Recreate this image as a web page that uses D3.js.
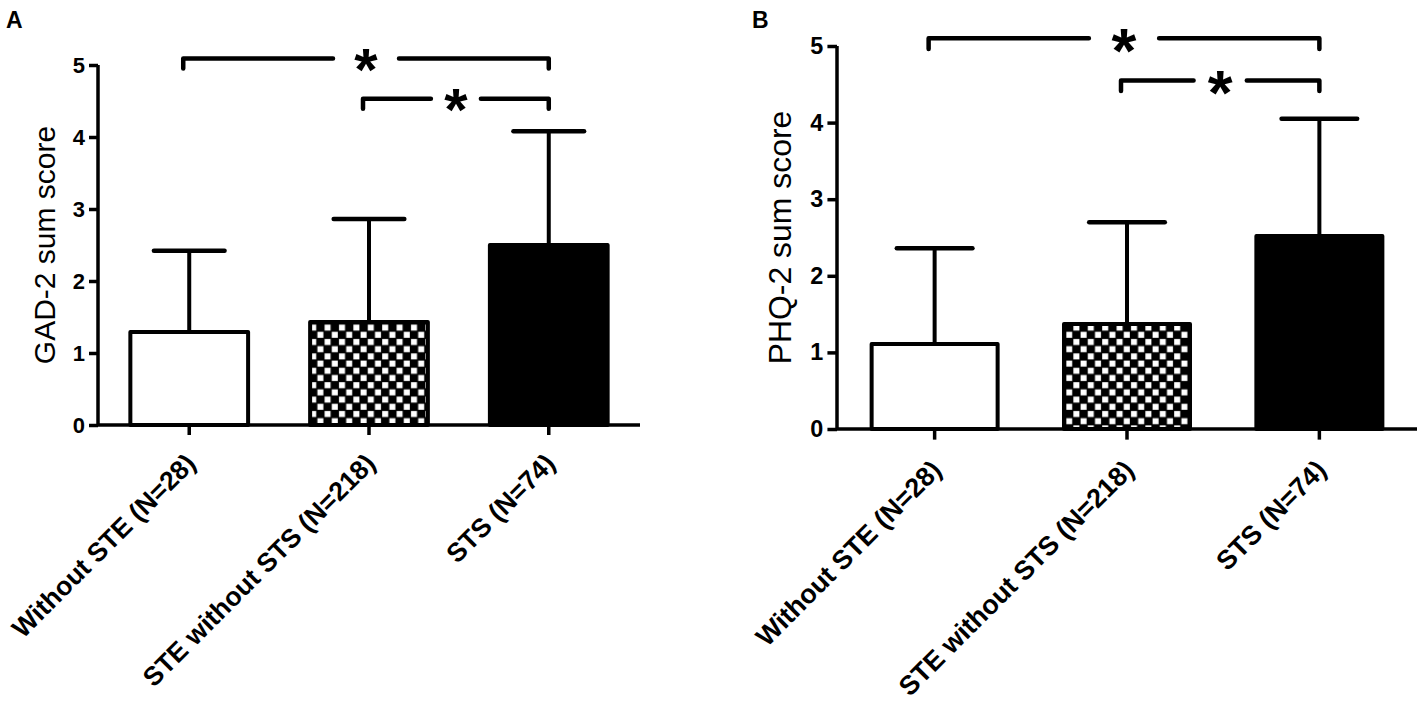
<!DOCTYPE html>
<html>
<head>
<meta charset="utf-8">
<script src="https://cdn.jsdelivr.net/npm/d3@7"></script>
<style>
  body { margin: 0; background: #fff; }
  svg { display: block; font-family: "Liberation Sans", Arial, sans-serif; }
</style>
</head>
<body>
<div id="chart"></div>
<script>
// groups on the x axis
var categories = ["Without STE (N=28)", "STE without STS (N=218)", "STS (N=74)"];
var yTicks = [0, 1, 2, 3, 4, 5];

// panel A : GAD-2
var gadMeans = [1.29, 1.43, 2.50];
var gadSD = [1.13, 1.43, 1.58];
var gadSigY = [5.09, 4.53];

// panel B : PHQ-2
var phqMeans = [1.11, 1.37, 2.52];
var phqSD = [1.25, 1.33, 1.53];
var phqSigY = [5.10, 4.55];

// significance brackets (index of groups compared) and their label
var sigPairs = [[0, 2], [1, 2]];
var sigLabels = ["*", "*"];

var width = 1417, height = 712;

var svg = d3.select("#chart")
  .append("svg")
  .attr("width", width)
  .attr("height", height);

// checker fill for the middle bar
var defs = svg.append("defs");
var cell = 7.2;
var pat = defs.append("pattern")
  .attr("id", "checker")
  .attr("patternUnits", "userSpaceOnUse")
  .attr("width", cell * 2)
  .attr("height", cell * 2);
pat.append("rect").attr("width", cell * 2).attr("height", cell * 2).attr("fill", "black");
pat.append("rect").attr("x", 0.6).attr("y", 0.6).attr("width", cell - 1.2).attr("height", cell - 1.2).attr("fill", "white");
pat.append("rect").attr("x", cell + 0.6).attr("y", cell + 0.6).attr("width", cell - 1.2).attr("height", cell - 1.2).attr("fill", "white");

var fills = ["white", "url(#checker)", "black"];

function drawPanel(p) {
  var k = p.scale;
  var g = svg.append("g");

  var x = d3.scaleBand()
    .domain(categories)
    .range([p.left, p.right])
    .paddingInner(0.345)
    .paddingOuter(0.18);

  var y = d3.scaleLinear()
    .domain([0, 5])
    .range([p.bottom, p.top]);

  // y axis
  var yAxis = g.append("g")
    .attr("transform", "translate(" + p.left + ",0)")
    .call(d3.axisLeft(y).tickValues(yTicks).tickFormat(d3.format("d")).tickSize(9 * k).tickPadding(4 * k));
  yAxis.selectAll("line, path").attr("stroke", "black").attr("stroke-width", 3.5);
  yAxis.select(".domain").attr("d", "M0," + p.bottom + "V" + p.top);
  yAxis.selectAll("text")
    .attr("fill", "black")
    .style("font-size", (22 * k) + "px")
    .style("font-weight", "bold")
    .style("font-family", "'Liberation Sans', Arial, sans-serif");

  // bars
  g.selectAll(".bar")
    .data(p.means)
    .enter().append("rect")
    .attr("class", "bar")
    .attr("x", function(d, i) { return x(categories[i]); })
    .attr("y", function(d) { return y(d); })
    .attr("width", x.bandwidth())
    .attr("height", function(d) { return p.bottom - y(d); })
    .attr("fill", function(d, i) { return fills[i]; })
    .attr("stroke", "black")
    .attr("stroke-width", 4)
    .attr("stroke-linejoin", "round");

  // error bars (upper only)
  var cx = function(i) { return x(categories[i]) + x.bandwidth() / 2; };
  var capW = x.bandwidth() * 0.6;
  p.means.forEach(function(m, i) {
    g.append("line")
      .attr("x1", cx(i)).attr("x2", cx(i))
      .attr("y1", y(m)).attr("y2", y(m + p.sd[i]))
      .attr("stroke", "black").attr("stroke-width", 4);
    g.append("line")
      .attr("x1", cx(i) - capW / 2).attr("x2", cx(i) + capW / 2)
      .attr("y1", y(m + p.sd[i])).attr("y2", y(m + p.sd[i]))
      .attr("stroke", "black").attr("stroke-width", 4.5).attr("stroke-linecap", "round");
  });

  // x axis
  var xAxis = g.append("g")
    .attr("transform", "translate(0," + p.bottom + ")")
    .call(d3.axisBottom(x).tickSize(10 * k).tickFormat(""));
  xAxis.selectAll("line, path").attr("stroke", "black").attr("stroke-width", 3.5);
  xAxis.select(".domain").attr("d", "M" + p.left + ",0H" + p.right);

  g.selectAll(".xlabel")
    .data(categories)
    .enter().append("text")
    .attr("class", "xlabel")
    .attr("transform", function(d) {
      return "translate(" + (x(d) + x.bandwidth() / 2 + 8 * k) + "," + (p.bottom + 40 * k) + ") rotate(-45)";
    })
    .attr("text-anchor", "end")
    .style("font-size", p.labelSize + "px")
    .style("font-weight", "bold")
    .text(function(d) { return d; });

  // y axis title
  g.append("text")
    .attr("transform", "translate(" + (p.left - 43 * k) + "," + ((p.top + p.bottom) / 2) + ") rotate(-90)")
    .attr("text-anchor", "middle")
    .style("font-size", (30 * k) + "px")
    .text(p.title);

  // panel letter
  g.append("text")
    .attr("x", p.letterX)
    .attr("y", 28)
    .style("font-size", "23px")
    .style("font-weight", "bold")
    .text(p.letter);

  // significance brackets
  sigPairs.forEach(function(pair, j) {
    var x1 = cx(pair[0]) - 6, x2 = cx(pair[1]);
    var yy = y(p.sigY[j]), yd = yy + 10 * k;
    var mid = (x1 + x2) / 2;
    var gap = (j === 0 ? 33 : 25) * k;
    g.append("path")
      .attr("d", "M" + x1 + "," + yd + "V" + yy + "H" + (mid - gap))
      .attr("fill", "none").attr("stroke", "black").attr("stroke-width", 4.5)
      .attr("stroke-linecap", "round").attr("stroke-linejoin", "round");
    g.append("path")
      .attr("d", "M" + (mid + gap) + "," + yy + "H" + x2 + "V" + yd)
      .attr("fill", "none").attr("stroke", "black").attr("stroke-width", 4.5)
      .attr("stroke-linecap", "round").attr("stroke-linejoin", "round");
    var fs = 60 * k;
    g.append("text")
      .attr("x", mid)
      .attr("y", yy + 0.52 * fs)
      .attr("text-anchor", "middle")
      .style("font-size", fs + "px")
      .style("font-weight", "bold")
      .text(sigLabels[j]);
  });
}

drawPanel({ left: 98, right: 640, top: 65, bottom: 425, scale: 1, labelSize: 26.5,
  means: gadMeans, sd: gadSD, sigY: gadSigY, title: "GAD-2 sum score", letter: "A", letterX: 6 });
drawPanel({ left: 837, right: 1417, top: 46, bottom: 429, scale: 1.064, labelSize: 26.8,
  means: phqMeans, sd: phqSD, sigY: phqSigY, title: "PHQ-2 sum score", letter: "B", letterX: 752 });
</script>
</body>
</html>
